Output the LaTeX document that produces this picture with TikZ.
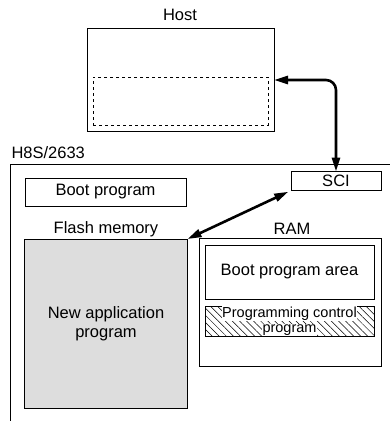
\documentclass[tikz,border=0pt]{standalone}
\usepackage{fontspec}
\setmainfont{Liberation Sans}
\usetikzlibrary{arrows.meta,positioning,patterns.meta}
\definecolor{flashfill}{RGB}{221,221,221}
\setlength{\fboxsep}{0.6pt}

\tikzset{
  box/.style={draw, line width=0.9pt, inner sep=0pt, outer sep=0pt, align=center},
  link/.style={line width=2.6pt, {Triangle[length=14pt,width=8pt]}-{Triangle[length=14pt,width=8pt]}}
}

\begin{document}
\begin{tikzpicture}[x=1pt, y=-1pt, font=\fontsize{16.5}{19.5}\selectfont]
\useasboundingbox (0,0) rectangle (390,421);

% host side
\node[box, minimum width=187pt, minimum height=103pt] (host) at (180.5,80) {};
\node[box, dashed, minimum width=175pt, minimum height=48pt] (hostbuf) at (180.5,101) {};
\node (hostlbl) at (180,15) {Host};

% chip outline (runs off the page)
\node[anchor=west] (chiplbl) at (8,153) {H8S/2633};
\coordinate (chip) at (10.5,164);
\draw[line width=0.9pt] (390,164) -- (chip) -- (10.5,421);

\node[box, minimum width=90pt, minimum height=19pt] (sci) at (336,181) {SCI};
\node[box, minimum width=161pt, minimum height=28pt] (boot) at (105.5,192) {Boot program};

% flash memory
\node (flashlbl) at (106,229) {Flash memory};
\node[box, fill=flashfill, minimum width=163pt, minimum height=169pt] (flash) at (106,323.5)
  {New application\\program};

% RAM
\node (ramlbl) at (292,229) {RAM};
\node[box, minimum width=182pt, minimum height=128pt] (ram) at (290,302) {};
\node[box, minimum width=169pt, minimum height=54pt] (bootarea) at (289.5,272) {Boot program area};
\node[box, pattern={Lines[angle=-45,distance=5pt,line width=0.5pt]},
      minimum width=169pt, minimum height=30pt] (pcp) at (289.5,321) {};
\node[inner sep=0pt, align=center, font=\fontsize{14.5}{14.5}\selectfont] (pcptext) at (289.5,321)
  {\colorbox{white}{Programming control}\\\colorbox{white}{program}};

% transfer paths
\draw[link, rounded corners=10pt] (host.east) -| (sci.north);
\draw[link, shorten >=3pt] (flash.north east) -- (sci.south west);
\end{tikzpicture}
\end{document}
